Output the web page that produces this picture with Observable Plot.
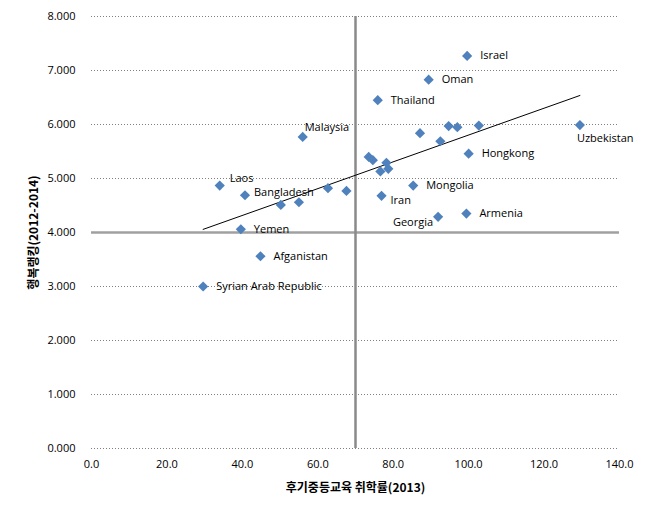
<!DOCTYPE html>
<html>
<head>
<meta charset="utf-8">
<script src="https://cdn.jsdelivr.net/npm/d3@7"></script>
<script src="https://cdn.jsdelivr.net/npm/@observablehq/plot@0.6"></script>
<style>
  html, body { margin: 0; padding: 0; background: #fff; }
  #chart svg { display: block; }
</style>
</head>
<body>
<div id="chart"></div>
<script>
// ---- data ----
const names = ["Israel","Oman","Thailand","","","","Uzbekistan","","","Hongkong","","","","","","Mongolia","Iran","Georgia","Armenia","","","Malaysia","Laos","Bangladesh","","","Yemen","Afganistan","Syrian Arab Republic"];
const enrolment = [99.6,89.4,75.9,94.7,97.0,102.7,129.5,87.1,92.5,100.0,73.5,74.6,78.2,76.6,78.7,85.3,76.9,91.9,99.4,62.7,67.6,56.0,34.0,40.7,50.2,55.0,39.6,44.8,29.6];
const happiness = [7.27,6.83,6.45,5.97,5.95,5.98,5.99,5.84,5.69,5.46,5.40,5.34,5.29,5.13,5.18,4.87,4.68,4.29,4.35,4.82,4.77,5.77,4.87,4.69,4.51,4.56,4.06,3.56,3.00];
const xTicks = [0,20,40,60,80,100,120,140];
const yTicks = [0,1,2,3,4,5,6,7,8];
const xRef = [70];
const yRef = [4];
const xTitle = "후기중등교육 취학률(2013)";
const yTitle = "행복랭킹(2012-2014)";

// label placement groups (style, not data)
const placeBelow = ["Uzbekistan"];
const placeLeft = ["Georgia"];
const placeBelowRight = ["Iran"];
const placeAbove = ["Malaysia"];
const placeAboveRight = ["Laos"];
const placeRightHigh = ["Bangladesh"];
const special = [...placeBelow, ...placeLeft, ...placeBelowRight, ...placeAbove, ...placeAboveRight, ...placeRightHigh];

const rows = names.map((n, i) => ({name: n, x: enrolment[i], y: happiness[i]}));
const labeled = rows.filter(d => d.name);
const right = labeled.filter(d => !special.includes(d.name));
const pick = list => labeled.filter(d => list.includes(d.name));

const font = "'Open Sans', 'Noto Sans', sans-serif";
const labelStyle = {text: "name", fontSize: 11, fill: "#000", fontFamily: font};

const chart = Plot.plot({
  width: 653,
  height: 519,
  marginLeft: 91,
  marginRight: 34,
  marginTop: 16,
  marginBottom: 71,
  style: {fontFamily: font, fontSize: "11px", color: "#000", background: "#fff"},
  x: {domain: [0, 140]},
  y: {domain: [0, 8]},
  marks: [
    Plot.gridY(yTicks, {stroke: "#7f7f7f", strokeOpacity: 1, strokeDasharray: "1,2", strokeWidth: 1}),
    Plot.ruleY(yRef, {stroke: "#a0a0a0", strokeWidth: 2.5}),
    Plot.ruleX(xRef, {stroke: "#8a8a8a", strokeWidth: 2.5}),
    Plot.axisX({ticks: xTicks, tickFormat: d => d.toFixed(1), tickSize: 0, tickPadding: 12,
      label: xTitle, labelAnchor: "center", labelArrow: "none", labelOffset: 43,
      fontSize: 11}),
    Plot.axisY({ticks: yTicks, tickFormat: d => d.toFixed(3), tickSize: 0, tickPadding: 16,
      label: yTitle, labelAnchor: "center", labelArrow: "none", labelOffset: 62,
      fontSize: 11}),
    Plot.linearRegressionY(rows, {x: "x", y: "y", stroke: "#000", strokeWidth: 1, ci: 0}),
    Plot.dot(rows, {x: "x", y: "y", symbol: "diamond2", r: 4.6, fill: "#4f81bd", stroke: "none"}),
    Plot.text(right, {x: "x", y: "y", ...labelStyle, textAnchor: "start", dx: 13}),
    Plot.text(pick(placeRightHigh), {x: "x", y: "y", ...labelStyle, textAnchor: "start", dx: 9, dy: -3}),
    Plot.text(pick(placeBelow), {x: "x", y: "y", ...labelStyle, textAnchor: "start", dx: -3, dy: 13}),
    Plot.text(pick(placeLeft), {x: "x", y: "y", ...labelStyle, textAnchor: "end", dx: -5, dy: 6}),
    Plot.text(pick(placeBelowRight), {x: "x", y: "y", ...labelStyle, textAnchor: "start", dx: 9, dy: 5}),
    Plot.text(pick(placeAbove), {x: "x", y: "y", ...labelStyle, textAnchor: "start", dx: 2, dy: -9}),
    Plot.text(pick(placeAboveRight), {x: "x", y: "y", ...labelStyle, textAnchor: "start", dx: 10, dy: -7})
  ]
});

// bold Korean axis titles
chart.querySelectorAll("[aria-label='x-axis label'] text, [aria-label='y-axis label'] text").forEach(t => {
  t.setAttribute("font-weight", "bold");
  t.setAttribute("font-size", "12");
  t.setAttribute("font-family", "'Noto Sans CJK KR', sans-serif");
});
document.getElementById("chart").appendChild(chart);
</script>
</body>
</html>
